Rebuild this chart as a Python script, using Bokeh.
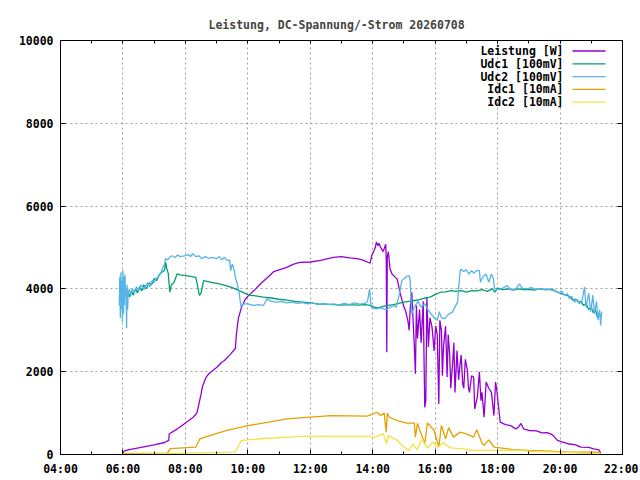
import pandas as pd
from bokeh.plotting import figure
from bokeh.models import (Range1d, FixedTicker, DatetimeTickFormatter, DatetimeAxis,
                          LinearAxis, Label, Arrow)
from bokeh.embed import file_html
from bokeh.resources import INLINE

day = "2026-07-08"
title = "Leistung, DC-Spannung/-Strom 20260708"

x_ticks = ["04:00", "06:00", "08:00", "10:00", "12:00", "14:00", "16:00", "18:00", "20:00", "22:00"]
y_ticks = [0, 2000, 4000, 6000, 8000, 10000]

# (time, value)
leistung = [
    ("06:00", 30), ("06:02", 80), ("06:10", 110), ("06:30", 160), ("07:00", 230), ("07:20", 290),
    ("07:28", 340), ("07:29", 500), ("07:45", 620), ("08:00", 760), ("08:15", 900), ("08:22", 1000),
    ("08:24", 1100), ("08:30", 1450), ("08:33", 1650), ("08:40", 1870), ("08:45", 1950), ("09:00", 2100),
    ("09:10", 2230), ("09:15", 2270), ("09:25", 2400), ("09:36", 2560), ("09:38", 2900), ("09:42", 3300),
    ("09:48", 3560), ("09:55", 3750), ("10:00", 3820), ("10:15", 4000), ("10:25", 4130), ("10:40", 4300),
    ("10:50", 4420), ("11:00", 4460), ("11:15", 4520), ("11:28", 4600), ("11:40", 4640), ("12:00", 4650),
    ("12:20", 4690), ("12:30", 4720), ("12:45", 4760), ("13:00", 4780), ("13:15", 4750), ("13:30", 4730),
    ("13:40", 4700), ("13:55", 4620), ("13:58", 4800), ("14:05", 5000), ("14:07", 5130), ("14:10", 5040),
    ("14:12", 5100), ("14:15", 5010), ("14:20", 4900), ("14:25", 5080), ("14:26", 4700), ("14:27", 2470),
    ("14:28", 4770), ("14:30", 4900), ("14:33", 4500), ("14:37", 4360), ("14:45", 4260), ("14:47", 4240),
    ("14:53", 3880), ("15:00", 3560), ("15:03", 3480), ("15:08", 3200), ("15:10", 3000), ("15:12", 3520),
    ("15:15", 3920), ("15:17", 3400), ("15:20", 2600), ("15:22", 1950), ("15:24", 3600), ("15:26", 2800),
    ("15:30", 3500), ("15:33", 2700), ("15:37", 3700), ("15:40", 1140), ("15:42", 1300), ("15:44", 3800),
    ("15:47", 2600), ("15:50", 3300), ("15:54", 3070), ("15:58", 2500), ("16:01", 3100), ("16:04", 2900),
    ("16:07", 1220), ("16:09", 3240), ("16:12", 3000), ("16:14", 1900), ("16:16", 2600), ("16:20", 3100),
    ("16:23", 1870), ("16:25", 2900), ("16:28", 2400), ("16:30", 1600), ("16:33", 2110), ("16:36", 2700),
    ("16:38", 1500), ("16:42", 2510), ("16:45", 1800), ("16:48", 2200), ("16:50", 2400), ("16:53", 1700),
    ("16:55", 1600), ("16:58", 2300), ("17:02", 2030), ("17:04", 1600), ("17:06", 1500), ("17:10", 1900),
    ("17:14", 1870), ("17:16", 1100), ("17:21", 1380), ("17:25", 2000), ("17:28", 1300), ("17:30", 1500),
    ("17:34", 900), ("17:38", 1750), ("17:43", 1600), ("17:48", 1500), ("17:53", 940), ("17:56", 1750),
    ("17:58", 1600), ("18:05", 780), ("18:15", 720), ("18:25", 700), ("18:31", 650), ("18:35", 620),
    ("18:40", 660), ("18:45", 750), ("18:50", 620), ("19:00", 580), ("19:15", 570), ("19:25", 520),
    ("19:35", 530), ("19:45", 480), ("19:55", 340), ("20:05", 300), ("20:15", 260), ("20:30", 230),
    ("20:40", 180), ("20:55", 170), ("21:05", 135), ("21:15", 110), ("21:18", 30),
]

udc1 = [
    ("06:10", 3920), ("06:13", 3800), ("06:16", 3950), ("06:20", 3850), ("06:24", 4000), ("06:28", 3900),
    ("06:32", 4050), ("06:36", 3950), ("06:40", 4100), ("06:45", 4000), ("06:50", 4150), ("06:55", 4100),
    ("07:00", 4250), ("07:05", 4200), ("07:10", 4350), ("07:15", 4400), ("07:20", 4450), ("07:22", 4650),
    ("07:24", 4500), ("07:27", 4380), ("07:30", 3920), ("07:33", 4100), ("07:38", 4150), ("07:44", 4360),
    ("07:50", 4340), ("08:00", 4320), ("08:10", 4300), ("08:20", 4280), ("08:23", 4100), ("08:27", 3840),
    ("08:30", 3900), ("08:35", 4200), ("08:50", 4160), ("09:05", 4120), ("09:18", 4080), ("09:30", 4030),
    ("09:43", 3960), ("10:02", 3850), ("10:15", 3830), ("10:30", 3800), ("10:45", 3780), ("11:00", 3750),
    ("11:15", 3730), ("11:30", 3700), ("11:45", 3680), ("12:00", 3660), ("12:15", 3640), ("12:30", 3630),
    ("12:45", 3620), ("13:00", 3610), ("13:15", 3620), ("13:30", 3610), ("13:45", 3620), ("13:55", 3600),
    ("14:03", 3560), ("14:10", 3540), ("14:20", 3580), ("14:30", 3600), ("14:40", 3620), ("14:50", 3650),
    ("15:00", 3680), ("15:10", 3700), ("15:20", 3720), ("15:30", 3740), ("15:40", 3780), ("15:50", 3800),
    ("16:00", 3860), ("16:10", 3920), ("16:20", 3930), ("16:30", 3960), ("16:40", 3940), ("16:50", 3960),
    ("17:00", 3920), ("17:10", 3960), ("17:20", 3950), ("17:30", 3980), ("17:40", 3940), ("17:50", 4000),
    ("17:55", 3920), ("18:00", 4020), ("18:10", 3980), ("18:20", 4000), ("18:30", 3970), ("18:40", 4000),
    ("18:50", 3980), ("19:00", 3990), ("19:10", 3970), ("19:20", 4000), ("19:30", 3980), ("19:40", 3990),
    ("19:50", 3950), ("20:00", 3900), ("20:08", 3860), ("20:15", 3840), ("20:20", 3800), ("20:25", 3720),
    ("20:30", 3750), ("20:35", 3680), ("20:40", 3700), ("20:45", 3600), ("20:50", 3650), ("20:55", 3500),
    ("21:00", 3560), ("21:04", 3420), ("21:08", 3500), ("21:12", 3300), ("21:15", 3400), ("21:18", 3350),
]

udc2 = [
    ("05:53", 3600), ("05:54", 4300), ("05:55", 3300), ("05:56", 4400), ("05:57", 3500), ("05:58", 4200),
    ("05:59", 3200), ("06:00", 4450), ("06:01", 3400), ("06:02", 4300), ("06:03", 3600), ("06:04", 4350),
    ("06:05", 3800), ("06:06", 4000), ("06:07", 3050), ("06:08", 4100), ("06:09", 3500), ("06:10", 3850),
    ("06:12", 4000), ("06:15", 3850), ("06:18", 4000), ("06:22", 3900), ("06:26", 4050), ("06:30", 3950),
    ("06:35", 4100), ("06:40", 3980), ("06:44", 4080), ("06:48", 4150), ("06:52", 4050), ("06:56", 4200),
    ("07:00", 4150), ("07:03", 4240), ("07:08", 4300), ("07:12", 4350), ("07:16", 4500), ("07:20", 4600),
    ("07:22", 4730), ("07:26", 4700), ("07:30", 4770), ("07:35", 4800), ("07:40", 4760), ("07:45", 4820),
    ("07:50", 4780), ("07:58", 4800), ("08:05", 4830), ("08:10", 4780), ("08:14", 4850), ("08:20", 4780),
    ("08:26", 4800), ("08:32", 4730), ("08:38", 4780), ("08:45", 4740), ("08:52", 4760), ("09:00", 4730),
    ("09:05", 4780), ("09:10", 4700), ("09:15", 4760), ("09:20", 4690), ("09:25", 4700), ("09:27", 4440),
    ("09:30", 4600), ("09:33", 4500), ("09:36", 4280), ("09:40", 4100), ("09:43", 3920), ("09:47", 3560),
    ("09:52", 3640), ("10:00", 3640), ("10:10", 3600), ("10:20", 3620), ("10:30", 3600), ("10:37", 3760),
    ("10:45", 3700), ("10:55", 3680), ("11:05", 3700), ("11:15", 3660), ("11:25", 3680), ("11:35", 3650),
    ("11:45", 3670), ("11:55", 3640), ("12:05", 3660), ("12:15", 3620), ("12:25", 3650), ("12:35", 3620),
    ("12:45", 3640), ("12:55", 3610), ("13:05", 3650), ("13:15", 3620), ("13:25", 3660), ("13:35", 3630),
    ("13:45", 3650), ("13:50", 3700), ("13:54", 4000), ("13:57", 3560), ("14:05", 3520), ("14:15", 3540),
    ("14:25", 3500), ("14:35", 3560), ("14:40", 3600), ("14:45", 3560), ("14:50", 3800), ("14:56", 4200),
    ("15:05", 4300), ("15:10", 4320), ("15:12", 4200), ("15:15", 3400), ("15:20", 3560), ("15:27", 3700),
    ("15:33", 3560), ("15:40", 3640), ("15:46", 3500), ("15:52", 3400), ("15:58", 3300), ("16:04", 3240),
    ("16:08", 3450), ("16:12", 3300), ("16:18", 3280), ("16:25", 3380), ("16:33", 3440), ("16:38", 3560),
    ("16:43", 3680), ("16:47", 4300), ("16:49", 4480), ("16:55", 4420), ("17:00", 4460), ("17:05", 4360),
    ("17:10", 4440), ("17:15", 4380), ("17:20", 4450), ("17:25", 4440), ("17:27", 4160), ("17:32", 4300),
    ("17:38", 4360), ("17:43", 4160), ("17:48", 4360), ("17:52", 4250), ("17:54", 4000), ("18:00", 3980),
    ("18:10", 4020), ("18:18", 4080), ("18:25", 3980), ("18:35", 4000), ("18:42", 4120), ("18:47", 4020),
    ("18:55", 4000), ("19:05", 4030), ("19:15", 3980), ("19:25", 4000), ("19:35", 3990), ("19:45", 4000),
    ("19:52", 3940), ("19:58", 3900), ("20:03", 3950), ("20:08", 3850), ("20:14", 3880), ("20:18", 3760),
    ("20:22", 3820), ("20:28", 3680), ("20:33", 3750), ("20:37", 3640), ("20:42", 3700), ("20:47", 4050),
    ("20:50", 3550), ("20:55", 3900), ("20:59", 3450), ("21:03", 3850), ("21:06", 3400), ("21:10", 3700),
    ("21:13", 3250), ("21:16", 3500), ("21:18", 3120), ("21:20", 3450),
]

idc1 = [
    ("06:00", 20), ("07:25", 30), ("07:31", 140), ("08:20", 180), ("08:28", 380), ("08:48", 460),
    ("09:20", 580), ("10:00", 700), ("10:40", 780), ("11:15", 860), ("11:40", 885), ("12:40", 940),
    ("13:50", 925), ("14:08", 1020), ("14:15", 940), ("14:22", 1000), ("14:26", 540), ("14:28", 1000),
    ("14:32", 900), ("14:47", 820), ("15:06", 760), ("15:20", 760), ("15:22", 420), ("15:26", 750),
    ("15:40", 260), ("15:45", 760), ("15:58", 580), ("16:07", 180), ("16:12", 700), ("16:20", 380),
    ("16:26", 650), ("16:35", 420), ("16:48", 540), ("17:00", 500), ("17:14", 420), ("17:20", 600),
    ("17:30", 280), ("17:34", 220), ("17:43", 355), ("17:53", 180), ("18:05", 160), ("18:30", 120),
    ("19:00", 100), ("19:40", 80), ("20:15", 55), ("21:15", 55), ("21:18", 10),
]

idc2 = [
    ("06:00", 0), ("09:35", 55), ("09:48", 340), ("10:25", 380), ("11:20", 420), ("11:40", 440),
    ("13:55", 440), ("14:00", 400), ("14:20", 500), ("14:27", 260), ("14:30", 460), ("14:47", 340),
    ("15:00", 180), ("15:10", 100), ("15:17", 260), ("15:25", 120), ("15:35", 380), ("15:45", 150),
    ("15:55", 300), ("16:05", 180), ("16:15", 280), ("16:30", 160), ("16:50", 140), ("17:10", 100),
    ("18:00", 100), ("18:45", 100), ("19:10", 70), ("20:00", 55), ("20:30", 40), ("21:18", 10),
]

series = [
    ("Leistung [W]", leistung, "#9400d3"),
    ("Udc1 [100mV]", udc1, "#009e73"),
    ("Udc2 [100mV]", udc2, "#56b4e9"),
    ("Idc1 [10mA]", idc1, "#e69f00"),
    ("Idc2 [10mA]", idc2, "#f0e442"),
]

FONT = "DejaVu Sans Mono"
FSIZE = "11.5px"


def ms(hhmm):
    return pd.Timestamp(day + " " + hhmm).value // 10**6


p = figure(width=638, height=478, x_axis_type="datetime",
           x_range=Range1d(ms(x_ticks[0]), ms(x_ticks[-1])), y_range=Range1d(y_ticks[0], y_ticks[-1]),
           output_backend="svg", toolbar_location=None,
           min_border_left=60, min_border_right=16, min_border_top=40, min_border_bottom=24)

p.title.text = title
p.title.align = "left"
p.title.offset = 148
p.title.text_font = FONT
p.title.text_font_size = FSIZE
p.title.text_font_style = "bold"
p.title.standoff = 18

p.outline_line_color = "black"
p.background_fill_color = "white"

hours = [f"{h:02d}:00" for h in range(4, 23)]
xticker = FixedTicker(ticks=[ms(t) for t in x_ticks], minor_ticks=[ms(t) for t in hours])
yticker = FixedTicker(ticks=y_ticks, minor_ticks=[])
fmt = "%H:%M"
xfmt = DatetimeTickFormatter(milliseconds=fmt, seconds=fmt, minsec=fmt, minutes=fmt, hourmin=fmt,
                             hours=fmt, days=fmt, months=fmt, years=fmt)

p.xaxis.ticker = xticker
p.xaxis.formatter = xfmt
p.yaxis.ticker = yticker

for ax in p.xaxis + p.yaxis:
    ax.axis_line_color = "black"
    ax.major_tick_line_color = "black"
    ax.minor_tick_line_color = "black"
    ax.major_tick_in = 5
    ax.major_tick_out = 0
    ax.minor_tick_in = 3
    ax.minor_tick_out = 0
    ax.major_label_text_font = FONT
    ax.major_label_text_font_size = FSIZE
    ax.major_label_text_font_style = "bold"
    ax.major_label_text_color = "black"
    ax.major_label_standoff = 7

# mirrored tics on top and right: minor ticks only, so no labels are drawn
top = DatetimeAxis(ticker=FixedTicker(ticks=[], minor_ticks=[ms(t) for t in hours]),
                   minor_tick_in=3, minor_tick_out=0, major_label_standoff=0,
                   axis_line_color="black", minor_tick_line_color="black")
right = LinearAxis(ticker=FixedTicker(ticks=[], minor_ticks=y_ticks),
                   minor_tick_in=5, minor_tick_out=0, major_label_standoff=0,
                   axis_line_color="black", minor_tick_line_color="black")
p.add_layout(top, "above")
p.add_layout(right, "right")

for g in (p.xgrid, p.ygrid):
    g.grid_line_color = "#a0a0a0"
    g.grid_line_dash = "2 3"
    g.grid_line_width = 1

# gnuplot style key: text right-aligned, line sample to its right
for i, (name, data, color) in enumerate(series):
    xs = pd.to_datetime([day + " " + t for t, _ in data])
    ys = [v for _, v in data]
    p.line(xs, ys, line_color=color, line_width=1.3)
    ky = 403.5 - 12.8 * i
    p.add_layout(Label(x=503, y=ky, x_units="screen", y_units="screen", text=name,
                       text_align="right", text_baseline="middle", text_font=FONT,
                       text_font_size=FSIZE, text_font_style="bold", text_color="black"))
    p.add_layout(Arrow(end=None, x_start=512, y_start=ky, x_end=545, y_end=ky,
                       start_units="screen", end_units="screen", line_color=color, line_width=1.3))

open("out.html", "w").write(file_html(p, INLINE))
